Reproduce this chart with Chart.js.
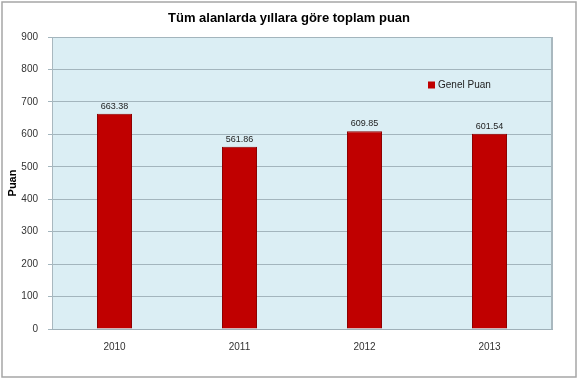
<!DOCTYPE html>
<html>
<head>
<meta charset="utf-8">
<script src="https://cdn.jsdelivr.net/npm/chart.js@4/dist/chart.umd.min.js"></script>
<style>
html,body{margin:0;padding:0;background:#fff;}
#wrap{width:579px;height:379px;position:relative;}
</style>
</head>
<body>
<div id="wrap"><canvas id="c" width="579" height="379"></canvas></div>
<script>
const categories = ['2010', '2011', '2012', '2013'];
const genelPuan = [663.38, 561.86, 609.85, 601.54];
const yTicks = [0, 100, 200, 300, 400, 500, 600, 700, 800, 900];
const titleText = 'Tüm alanlarda yıllara göre toplam puan';
const yAxisTitle = 'Puan';
const seriesName = 'Genel Puan';

const FONT = "'Liberation Sans', Arial, sans-serif";

const framePlugin = {
  id: 'frame',
  beforeDraw(chart) {
    const ctx = chart.ctx;
    const a = chart.chartArea;
    ctx.save();
    ctx.fillStyle = '#fff';
    ctx.fillRect(0, 0, chart.width, chart.height);
    ctx.strokeStyle = '#a6a6a6';
    ctx.lineWidth = 1.5;
    ctx.strokeRect(2, 2, 574, 375);
    ctx.fillStyle = '#dbeef4';
    ctx.fillRect(a.left, a.top, a.right - a.left, a.bottom - a.top);
    ctx.restore();
  },
  afterDraw(chart) {
    const ctx = chart.ctx;
    const a = chart.chartArea;
    ctx.save();
    ctx.strokeStyle = '#a9b8bf';
    ctx.lineWidth = 1;
    ctx.beginPath();
    ctx.moveTo(a.left + 0.5, a.bottom);
    ctx.lineTo(a.left + 0.5, a.top + 0.5);
    ctx.stroke();
    ctx.lineWidth = 2;
    ctx.beginPath();
    ctx.moveTo(a.right, a.top);
    ctx.lineTo(a.right, a.bottom);
    ctx.stroke();
    // title
    ctx.fillStyle = '#000';
    ctx.font = 'bold 13px ' + FONT;
    ctx.textAlign = 'center';
    ctx.textBaseline = 'middle';
    ctx.fillText(titleText, 289, 18);
    // data labels
    const meta = chart.getDatasetMeta(0);
    ctx.font = '9px ' + FONT;
    ctx.fillStyle = '#222';
    ctx.textBaseline = 'bottom';
    meta.data.forEach((bar, i) => {
      ctx.fillText(genelPuan[i].toFixed(2), bar.x, bar.y - 3);
    });
    // legend inside plot
    const ds = chart.data.datasets[0];
    const lx = 428, ly = 85;
    ctx.fillStyle = ds.backgroundColor;
    ctx.fillRect(lx, ly - 3.5, 7, 7);
    ctx.fillStyle = '#222';
    ctx.font = '10px ' + FONT;
    ctx.textAlign = 'left';
    ctx.textBaseline = 'middle';
    ctx.fillText(ds.label, lx + 10, ly);
    ctx.restore();
  }
};

new Chart(document.getElementById('c'), {
  type: 'bar',
  data: {
    labels: categories,
    datasets: [{
      label: seriesName,
      data: genelPuan,
      backgroundColor: '#c00000',
      borderColor: '#8e0000',
      borderWidth: 1,
      categoryPercentage: 0.56,
      barPercentage: 0.5
    }]
  },
  options: {
    responsive: false,
    animation: false,
    devicePixelRatio: 1,
    layout: { padding: { left: 0, right: 27, top: 37, bottom: 0 } },
    plugins: {
      legend: { display: false },
      title: { display: false },
      tooltip: { enabled: false }
    },
    scales: {
      x: {
        grid: { display: false },
        border: { display: true, color: '#9fb0b8' },
        ticks: { color: '#333', font: { family: FONT, size: 10 }, padding: 4 },
        afterFit(s) { s.height = 50; }
      },
      y: {
        min: 0,
        max: 900,
        afterBuildTicks(s) { s.ticks = yTicks.map(v => ({ value: v })); },
        grid: { color: '#a3b5bd', tickLength: 4, drawTicks: true, tickColor: '#a3b5bd' },
        border: { display: false },
        ticks: { color: '#333', font: { family: FONT, size: 10 }, padding: 10 },
        title: {
          display: true,
          text: yAxisTitle,
          color: '#000',
          font: { family: FONT, size: 11, weight: 'bold' },
          padding: { top: 6, bottom: 0 }
        },
        afterFit(s) { s.width = 52; }
      }
    }
  },
  plugins: [framePlugin]
});
</script>
</body>
</html>
